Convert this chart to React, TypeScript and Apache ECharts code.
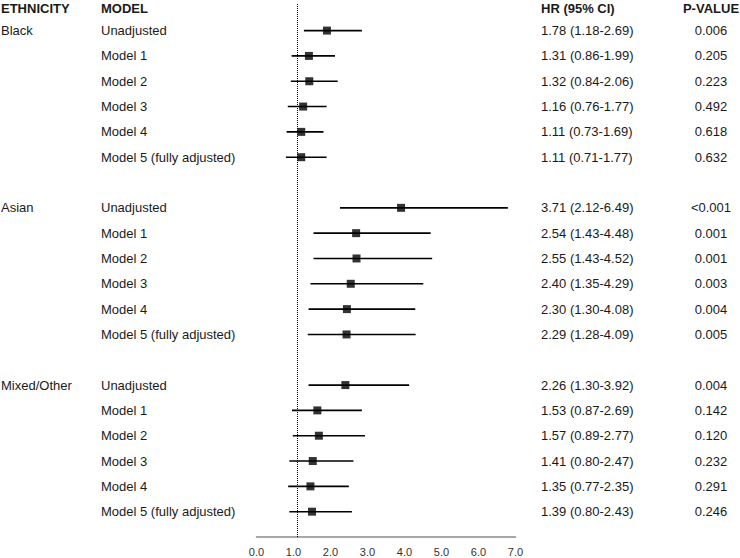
import React, { useEffect, useRef } from "react";
import * as echarts from "echarts";

const ethnicities = ["Black", "Asian", "Mixed/Other"];
const models = ["Unadjusted", "Model 1", "Model 2", "Model 3", "Model 4", "Model 5 (fully adjusted)"];

const hrBlack = [1.78, 1.31, 1.32, 1.16, 1.11, 1.11];
const loBlack = [1.18, 0.86, 0.84, 0.76, 0.73, 0.71];
const hiBlack = [2.69, 1.99, 2.06, 1.77, 1.69, 1.77];
const pBlack = ["0.006", "0.205", "0.223", "0.492", "0.618", "0.632"];

const hrAsian = [3.71, 2.54, 2.55, 2.40, 2.30, 2.29];
const loAsian = [2.12, 1.43, 1.43, 1.35, 1.30, 1.28];
const hiAsian = [6.49, 4.48, 4.52, 4.29, 4.08, 4.09];
const pAsian = ["<0.001", "0.001", "0.001", "0.003", "0.004", "0.005"];

const hrMixed = [2.26, 1.53, 1.57, 1.41, 1.35, 1.39];
const loMixed = [1.30, 0.87, 0.89, 0.80, 0.77, 0.80];
const hiMixed = [3.92, 2.69, 2.77, 2.47, 2.35, 2.43];
const pMixed = ["0.004", "0.142", "0.120", "0.232", "0.291", "0.246"];

const xTicks = [0, 1, 2, 3, 4, 5, 6, 7];
const refLine = 1;

const groups = [
  { hr: hrBlack, lo: loBlack, hi: hiBlack, p: pBlack },
  { hr: hrAsian, lo: loAsian, hi: hiAsian, p: pAsian },
  { hr: hrMixed, lo: loMixed, hi: hiMixed, p: pMixed },
];

const FONT = '"Liberation Sans", Arial, Helvetica, sans-serif';
const TXT = "#1a1a1a";

export default function App() {
  const ref = useRef<HTMLDivElement>(null);
  useEffect(() => {
    if (!ref.current) return;
    const chart = echarts.init(ref.current, null, { renderer: "svg" });

    const ciData: number[][] = [];
    const ptData: number[][] = [];
    const rows: { row: number; g: number; m: number }[] = [];
    groups.forEach((gr, g) => {
      gr.hr.forEach((v, m) => {
        const row = g * 7 + m;
        rows.push({ row, g, m });
        ciData.push([gr.lo[m], gr.hi[m], row]);
        ptData.push([v, row]);
      });
    });

    const xMin = xTicks[0];
    const xMax = xTicks[xTicks.length - 1];

    chart.setOption({
      animation: false,
      grid: [
        { left: 258.6, right: 212.6, top: 4, bottom: 21, containLabel: false },
        { left: 256.5, right: 224.5, top: 4, bottom: 21, containLabel: false },
      ],
      xAxis: [
        {
          gridIndex: 0,
          type: "value",
          min: xMin,
          max: xMax,
          interval: 1,
          show: false,
        },
        {
          gridIndex: 1,
          type: "value",
          min: xMin,
          max: xMax,
          interval: 1,
          axisLine: { show: true, onZero: false, lineStyle: { color: "#8c8c8c", width: 1.5 } },
          axisTick: { show: false },
          splitLine: { show: false },
          axisLabel: {
            formatter: (v: number) => v.toFixed(1),
            color: "#333",
            fontSize: 11,
            fontFamily: FONT,
            margin: 9,
          },
        },
      ],
      yAxis: [
        { gridIndex: 0, type: "value", inverse: true, min: -1.05, max: 20, show: false },
        { gridIndex: 1, type: "value", inverse: true, min: -1.05, max: 20, show: false },
      ],
      series: [
        {
          type: "custom",
          xAxisIndex: 0,
          yAxisIndex: 0,
          data: ciData,
          encode: { x: [0, 1], y: 2 },
          renderItem: (params: any, api: any) => {
            const y = api.value(2);
            const p1 = api.coord([api.value(0), y]);
            const p2 = api.coord([api.value(1), y]);
            return {
              type: "line",
              shape: { x1: p1[0], y1: p1[1], x2: p2[0], y2: p2[1] },
              style: { stroke: "#000", lineWidth: 1.6 },
            };
          },
          markLine: {
            silent: true,
            symbol: "none",
            label: { show: false },
            lineStyle: { type: "dotted", color: "#000", width: 1 },
            data: [{ xAxis: refLine }],
          },
        },
        {
          type: "scatter",
          xAxisIndex: 0,
          yAxisIndex: 0,
          data: ptData,
          symbol: "rect",
          symbolSize: 8,
          itemStyle: { color: "#000" },
          z: 5,
        },
      ],
    });

    const yOf = (r: number) => chart.convertToPixel({ yAxisIndex: 0 }, r) as number;
    const headerY = 8;
    const mk = (text: string, x: number, y: number, bold = false, align = "left") => ({
      type: "text",
      x,
      y,
      style: {
        text,
        fill: TXT,
        font: `${bold ? "bold " : ""}13px ${FONT}`,
        align,
        verticalAlign: "middle",
      },
    });
    const els: any[] = [
      mk("ETHNICITY", 1, headerY, true),
      mk("MODEL", 101, headerY, true),
      mk("HR (95% CI)", 541, headerY, true),
      mk("P-VALUE", 711, headerY, true, "center"),
    ];
    rows.forEach(({ row, g, m }) => {
      const y = yOf(row);
      const gr = groups[g];
      if (m === 0) els.push(mk(ethnicities[g], 1, y));
      els.push(mk(models[m], 101, y));
      els.push(
        mk(
          `${gr.hr[m].toFixed(2)} (${gr.lo[m].toFixed(2)}-${gr.hi[m].toFixed(2)})`,
          541,
          y
        )
      );
      els.push(mk(gr.p[m], 711, y, false, "center"));
    });
    chart.setOption({ graphic: { elements: els } });

    return () => chart.dispose();
  }, []);
  return (
    <div
      ref={ref}
      style={{ position: "absolute", left: 0, top: 0, width: 740, height: 558, background: "#fff" }}
    />
  );
}
